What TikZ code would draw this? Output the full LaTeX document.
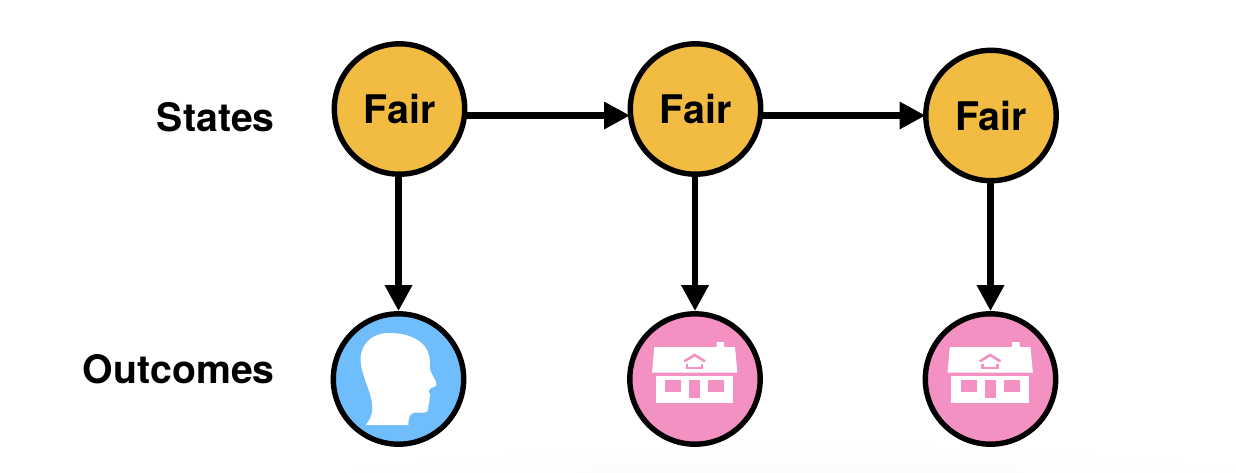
\documentclass[tikz,border=0pt]{standalone}
\usepackage{fontspec}
\setmainfont{TeX Gyre Heros}
\usetikzlibrary{arrows.meta}
\definecolor{fairfill}{HTML}{F1BC41}
\definecolor{headfill}{HTML}{70BDFB}
\definecolor{housefill}{HTML}{F291C2}
\tikzset{
  statenode/.style={circle,draw=black,line width=2.7pt,minimum size=65.2pt,inner sep=0pt,fill=fairfill,font=\fontsize{19.7}{23}\selectfont\bfseries},
  headnode/.style={circle,draw=black,line width=2.7pt,minimum size=65.2pt,inner sep=0pt,fill=headfill},
  housenode/.style={circle,draw=black,line width=2.7pt,minimum size=65.2pt,inner sep=0pt,fill=housefill},
  rowlabel/.style={anchor=base east,inner sep=0pt,font=\fontsize{19.6}{23}\selectfont\bfseries},
  link/.style={line width=3.2pt,-{Triangle[length=13pt,width=13pt]}},
  iconscale/.style={x=0.16667pt,y=-0.16667pt}
}
\newcommand{\houseicon}[2]{%
  \begin{scope}[shift={(#1,#2)},iconscale]
    \fill[white] (103,141) -- (290,141) -- (290,126) -- (312,126) -- (312,141) -- (345,141) -- (352,218) -- (96,218) -- cycle;
    \fill[white] (107,228) rectangle (339,309);
    \fill[housefill] (135,240) rectangle (183,276);
    \fill[housefill] (207,240) rectangle (240,294);
    \fill[housefill] (264,240) rectangle (312,276);
    \draw[housefill,line width=1.3pt] (193,184) -- (224,165) -- (255,184);
    \draw[housefill,line width=1.3pt] (201,191) -- (201,204) -- (246,204) -- (246,191);
  \end{scope}}
\begin{document}
\begin{tikzpicture}[x=0.5pt,y=-0.5pt]
\useasboundingbox (0,0) rectangle (1236,472);
\shade[inner color=black!4,outer color=white,draw=none] (800,540) ellipse (680 and 100);
\node[statenode] (s1) at (399.5,109) {Fair};
\node[statenode] (s2) at (695.5,109) {Fair};
\node[statenode] (s3) at (991,115.5) {Fair};
\node[headnode] (o1) at (398.5,379) {};
\node[housenode] (o2) at (695,379) {};
\node[housenode] (o3) at (990.5,379) {};
\node[rowlabel] (lstates) at (275,131) {States};
\node[rowlabel] (loutcomes) at (275,383) {Outcomes};
\draw[link,shorten >=-1.2pt] (s1.east |- s3.center) -- (s2.west |- s3.center);
\draw[link,shorten >=-1.2pt] (s2.east |- s3.center) -- (s3.west);
\draw[link] (s1.south -| o1.north) -- (o1.north);
\draw[link] (s2.south -| o2.north) -- (o2.north);
\draw[link] (s3.south -| o3.north) -- (o3.north);
\begin{scope}[shift={(320,300)},iconscale]
  \fill[white] (137,375) -- (265,375) .. controls (265,350) and (272,338) .. (285,338)
    -- (310,338) .. controls (322,338) and (326,330) .. (325,318)
    .. controls (325,308) and (332,300) .. (328,295)
    .. controls (328,288) and (334,285) .. (330,282) -- (326,276)
    .. controls (328,265) and (334,262) .. (340,262)
    .. controls (350,258) and (351,250) .. (347,243)
    -- (332,215) .. controls (328,205) and (332,190) .. (328,170)
    .. controls (320,125) and (270,98) .. (205,99)
    .. controls (150,100) and (118,140) .. (122,185)
    .. controls (125,230) and (158,280) .. (157,325)
    .. controls (156,350) and (146,365) .. (137,375) -- cycle;
\end{scope}
\houseicon{620}{300}
\houseicon{915.5}{300}
\end{tikzpicture}
\end{document}
